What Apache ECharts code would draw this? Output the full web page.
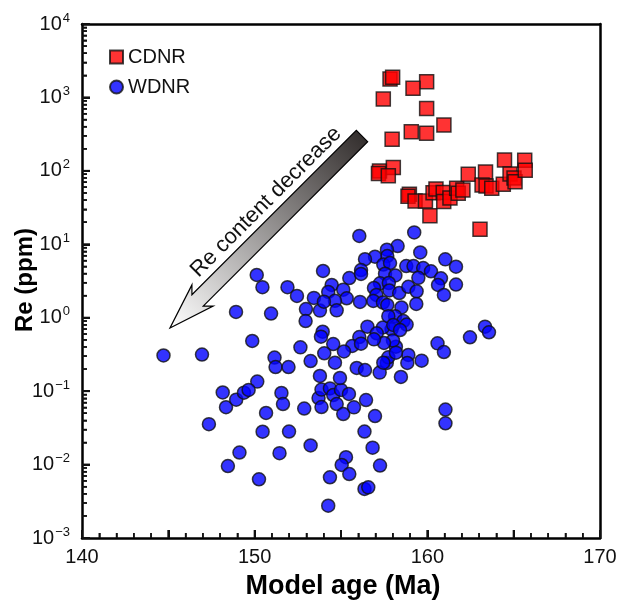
<!DOCTYPE html>
<html><head><meta charset="utf-8">
<script src="https://cdn.jsdelivr.net/npm/echarts@6/dist/echarts.min.js"></script>
<style>html,body{margin:0;padding:0;background:#fff}#c{width:618px;height:601px}</style>
</head><body><div id="c"></div>
<script>
// CDNR (red squares)
const cdnrAge = [157.84,157.99,159.96,159.17,157.45,159.96,160.96,159.07,159.96,157.96,157.23,157.17,158.03,157.74,158.96,158.88,159.29,159.89,160.15,160.33,160.5,160.92,160.95,161.31,161.70,161.79,162.06,162.37,163.37,163.17,163.40,163.73,164.40,164.47,164.79,165.02,165.08,165.64,165.67,163.05];
const cdnrRe  = [1780,1880,1640,1330,950,706,421,341,326,269,99.5,92,111,86,48,45,38.8,38.8,24.5,50.4,56.6,50.7,38.3,42.7,57.8,49.5,54.8,89.8,96.5,64.2,62.2,57.8,65.6,140.6,90.6,80,71.2,139,101.8,16.0];
// WDNR (blue circles)
const wdnrAge = [144.72,146.95,148.92,150.95,149.86,150.12,150.45,151.90,152.45,153.43,152.97,152.95,153.78,151.15,151.21,151.96,152.65,153.24,153.78,150.15,148.15,148.34,148.93,149.38,149.65,151.55,151.64,150.66,147.35,150.46,151.99,149.12,151.44,148.45,150.25,152.87,153.70,153.87,153.24,153.87,154.36,154.55,155.00,155.46,154.75,155.13,155.75,156.45,156.97,154.94,155.91,156.39,157.24,158.47,156.36,156.83,155.29,155.04,157.26,155.48,154.36,156.36,156.58,154.26,161.05,161.05,
156.06,159.24,158.28,157.66,159.59,157.68,156.97,156.39,161.04,161.66,153.96,155.48,156.16,156.16,157.45,157.84,158.78,159.20,159.76,160.21,160.79,161.66,159.48,157.55,158.15,157.26,157.77,157.80,158.37,158.90,159.38,160.62,160.96,156.91,157.05,156.87,157.43,157.68,156.10,154.46,154.26,155.13,155.33,154.65,154.01,154.75,159.36,158.50,158.13,158.61,158.80,157.93,157.43,156.53,157.07,153.94,153.84,156.06,155.65,156.16,155.17,154.55,154.03,154.65,157.65,158.18,158.01,157.49,158.90,158.84,159.67,160.59,160.96,162.47,163.34,163.57,157.74,156.91,157.74,158.03,158.42,158.18,157.45];
const wdnrRe  = [0.306,0.315,1.20,1.14,0.482,3.82,2.60,2.60,1.98,1.86,1.31,0.902,1.25,0.287,0.213,0.213,0.395,0.257,0.161,0.135,0.0959,0.0604,0.0765,0.0953,0.104,0.0944,0.0668,0.0504,0.0355,0.0280,0.0282,0.0146,0.0143,0.00955,0.0063,0.058,0.0806,0.0608,0.0182,0.105,0.109,0.0886,0.104,0.0915,0.0668,0.0488,0.0602,0.0757,0.0458,0.151,0.207,0.194,0.179,0.156,0.0282,0.0170,0.0126,0.00987,0.0097,0.00744,0.00671,0.00465,0.0049,0.00275,0.0562,0.0365,
12.97,14.5,9.47,8.44,7.73,6.92,6.77,6.26,6.24,4.95,4.33,3.47,4.46,3.94,5.30,5.56,5.06,5.06,4.75,4.29,3.44,2.83,3.49,3.97,3.76,2.94,2.97,2.35,2.17,2.64,2.29,2.79,2.04,2.54,2.04,1.69,1.61,1.49,1.64,2.79,2.24,2.41,1.84,1.70,1.65,1.26,1.54,1.38,1.05,0.902,0.808,0.695,0.736,0.755,0.614,0.645,0.552,0.546,0.412,0.443,0.347,0.438,0.328,0.244,0.242,0.403,0.490,0.453,0.311,0.242,0.260,0.448,0.341,0.541,0.755,0.633,0.289,0.508,1.05,0.796,0.680,0.334,0.244];

const xTicks = [140, 150, 160, 170];
const xMin = 140, xMax = 170, yMin = 0.001, yMax = 10000;
const xTitle = 'Model age (Ma)', yTitle = 'Re (ppm)', note = 'Re content decrease';

function zip(a, b) { return a.map((v, i) => [v, b[i]]); }

// tick positions (axis furniture)
const xMajorTicks = [], xMinorTicks = [], yMajorTicks = [], yMinorTicks = [];
for (let v = xMin; v <= xMax; v++) (v % 5 === 0 ? xMajorTicks : xMinorTicks).push([v, yMin]);
for (let e = -3; e <= 4; e++) for (let m = 1; m <= 9; m++) {
  if (e === 4 && m > 1) break;
  (m === 1 ? yMajorTicks : yMinorTicks).push([xMin, m * Math.pow(10, e)]);
}

const chart = echarts.init(document.getElementById('c'));
const fontFam = '"Liberation Sans", Arial, sans-serif';
const tickColor = '#111';
const frameLine = {show: true, onZero: false, lineStyle: {color: '#000', width: 2.5}};

function tickSeries(data, size, offset) {
  return {type: 'scatter', symbol: 'rect', symbolSize: size, symbolOffset: offset, clip: false, silent: true,
    z: 6, itemStyle: {color: tickColor, borderWidth: 0, opacity: 1}, emphasis: {disabled: true}, data: data};
}

// arrow geometry (annotation)
const T = [170, 328], B = [362, 136];
const d = [-Math.SQRT1_2, Math.SQRT1_2], n = [Math.SQRT1_2, Math.SQRT1_2];
function P(s, w) { return [T[0] - s * d[0] + w * n[0], T[1] - s * d[1] + w * n[1]]; }
const arrowPts = [T, P(46, 15), P(39, 8), [B[0] + 8 * n[0], B[1] + 8 * n[1]], [B[0] - 8 * n[0], B[1] - 8 * n[1]], P(39, -8), P(46, -15)];

chart.setOption({
  animation: false,
  backgroundColor: '#fff',
  grid: {left: 82, right: 18, top: 24, bottom: 63, outerBoundsMode: 'none'},
  legend: {
    orient: 'vertical', left: 109, top: 47, padding: 0, itemWidth: 13, itemHeight: 13, itemGap: 10,
    textStyle: {fontFamily: fontFam, fontSize: 20, color: '#111'},
    data: [{name: 'CDNR', icon: 'rect'}, {name: 'WDNR', icon: 'circle'}]
  },
  xAxis: [{
    type: 'value', min: xMin, max: xMax, interval: 5, position: 'bottom',
    axisLine: frameLine,
    axisTick: {show: true, inside: true, length: 8, lineStyle: {color: tickColor, width: 2}},
    minorTick: {show: true, splitNumber: 5, length: 5, lineStyle: {color: tickColor, width: 1.5}},
    splitLine: {show: false},
    axisLabel: {margin: 9, fontFamily: fontFam, fontSize: 20, color: '#111',
      formatter: v => (xTicks.indexOf(v) >= 0 ? String(v) : '')}
  }, {
    type: 'value', min: xMin, max: xMax, position: 'top',
    axisLine: frameLine, axisTick: {show: false}, axisLabel: {show: false}, splitLine: {show: false}
  }],
  yAxis: [{
    type: 'log', logBase: 10, min: yMin, max: yMax, position: 'left',
    axisLine: frameLine,
    axisTick: {show: true, inside: true, length: 8, lineStyle: {color: tickColor, width: 2}},
    minorTick: {show: true, splitNumber: 9, length: 5, lineStyle: {color: tickColor, width: 1.5}},
    splitLine: {show: false},
    axisLabel: {margin: 12, fontFamily: fontFam, fontSize: 20, color: '#111',
      formatter: function (v) {
        const e = Math.round(Math.log10(v));
        const s = String(e).replace('-', '\u2212');
        return '10{s|' + s + '}';
      },
      rich: {s: {fontFamily: fontFam, fontSize: 13, color: '#111', verticalAlign: 'bottom', padding: [0, 0, 12, 1]}}
    }
  }, {
    type: 'log', logBase: 10, min: yMin, max: yMax, position: 'right',
    axisLine: frameLine, axisTick: {show: false}, axisLabel: {show: false}, splitLine: {show: false}
  }],
  series: [
    {name: 'CDNR', type: 'scatter', symbol: 'rect', symbolSize: 14,
      itemStyle: {color: '#ff0000', borderColor: '#111', borderWidth: 1.5},
      data: zip(cdnrAge, cdnrRe)},
    {name: 'WDNR', type: 'scatter', symbol: 'circle', symbolSize: 13,
      itemStyle: {color: '#0000ff', borderColor: '#111', borderWidth: 1.5},
      data: zip(wdnrAge, wdnrRe)},
    tickSeries(xMajorTicks, [2, 8], [0, -4]),
    tickSeries(xMinorTicks, [1.5, 5], [0, -2.5]),
    tickSeries(yMajorTicks, [8, 2], [4, 0]),
    tickSeries(yMinorTicks, [5, 1.5], [2.5, 0])
  ],
  graphic: [
    {type: 'polygon', z: 1, shape: {points: arrowPts},
      style: {fill: new echarts.graphic.LinearGradient(1, 0, 0, 1, [{offset: 0, color: '#2e2928'}, {offset: 1, color: '#ffffff'}]),
        stroke: '#000', lineWidth: 1.2}},
    {type: 'text', z: 2, x: 266, y: 202, rotation: Math.PI / 4,
      style: {text: note, fontFamily: fontFam, fontSize: 22, fill: '#111', align: 'center', verticalAlign: 'middle'}},
    {type: 'text', z: 2, x: 343, y: 587,
      style: {text: xTitle, fontFamily: fontFam, fontSize: 27, fontWeight: 'bold', fill: '#000', align: 'center', verticalAlign: 'middle'}},
    {type: 'text', z: 2, x: 25, y: 280, rotation: Math.PI / 2,
      style: {text: yTitle, fontFamily: fontFam, fontSize: 24, fontWeight: 'bold', fill: '#000', align: 'center', verticalAlign: 'middle'}}
  ]
});
</script></body></html>
